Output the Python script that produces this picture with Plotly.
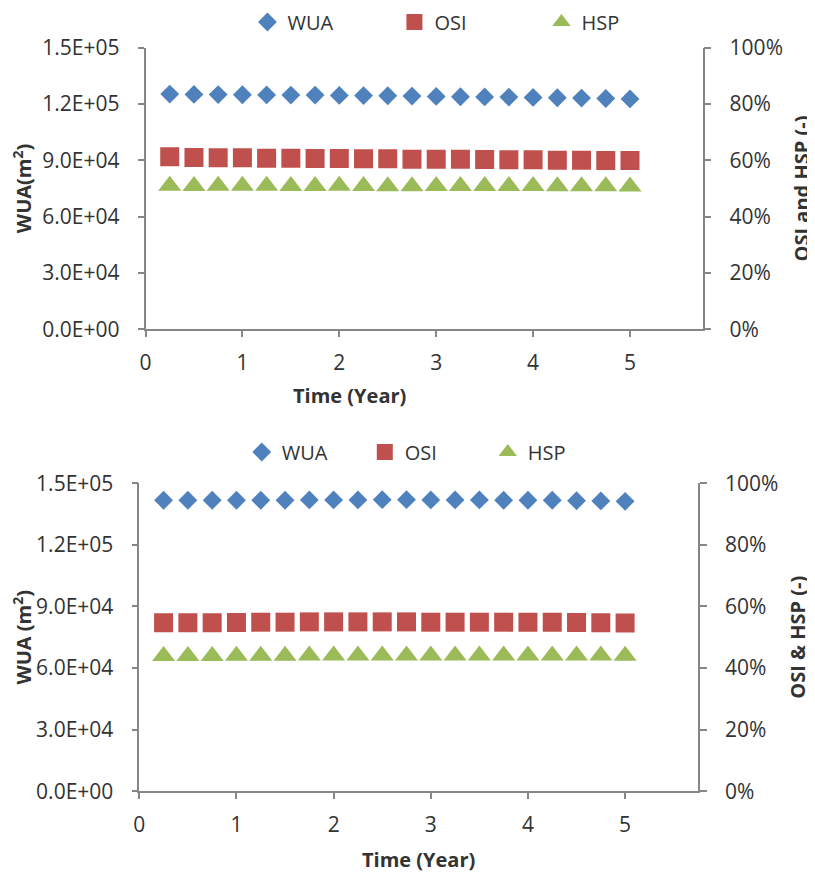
import plotly.graph_objects as go

# time axis (years), same for both panels
time_year = [0.25, 0.5, 0.75, 1.0, 1.25, 1.5, 1.75, 2.0, 2.25, 2.5,
             2.75, 3.0, 3.25, 3.5, 3.75, 4.0, 4.25, 4.5, 4.75, 5.0]

# upper panel
wua_top = [125270, 125090, 125000, 124910, 124820, 124730, 124730, 124550, 124470, 124380,
           124200, 124020, 123840, 123750, 123670, 123490, 123310, 123130, 122950, 122690]
osi_top = [0.6125, 0.6101, 0.6089, 0.6089, 0.6077, 0.6077, 0.6065, 0.6065, 0.6053, 0.6053,
           0.6042, 0.6042, 0.6042, 0.6030, 0.6018, 0.6018, 0.6006, 0.6006, 0.5994, 0.5994]
hsp_top = [0.510, 0.509, 0.510, 0.510, 0.510, 0.509, 0.509, 0.510, 0.509, 0.508,
           0.508, 0.509, 0.509, 0.509, 0.509, 0.509, 0.508, 0.508, 0.508, 0.507]

# lower panel
wua_bot = [141700, 141700, 141700, 141700, 141700, 141700, 141900, 141900, 141900, 142000,
           142000, 141900, 141900, 141900, 141700, 141700, 141700, 141500, 141400, 141200]
osi_bot = [0.547, 0.547, 0.547, 0.548, 0.549, 0.549, 0.550, 0.550, 0.550, 0.550,
           0.550, 0.549, 0.549, 0.549, 0.549, 0.549, 0.549, 0.548, 0.547, 0.546]
hsp_bot = [0.439, 0.439, 0.439, 0.440, 0.440, 0.440, 0.441, 0.441, 0.441, 0.441,
           0.441, 0.441, 0.441, 0.441, 0.441, 0.441, 0.441, 0.441, 0.441, 0.440]

wua_tickvals = [0, 30000, 60000, 90000, 120000, 150000]
wua_ticktext = ["0.0E+00", "3.0E+04", "6.0E+04", "9.0E+04", "1.2E+05", "1.5E+05"]
x_tickvals = [0, 1, 2, 3, 4, 5]

FONT = "Open Sans"
TEXT = "#333333"
AXIS = "#868686"
BLUE = "#4F81BD"
RED = "#C0504D"
GREEN = "#9BBB59"

# the page body adds an 8px margin, so the figure is 8px smaller than the window
W, H = 807, 866


def marker_trace(x, y, name, symbol, color, size, xaxis, yaxis, legend):
    return go.Scatter(x=x, y=y, name=name, mode="markers",
                      marker=dict(symbol=symbol, color=color, size=size, line=dict(width=0)),
                      xaxis=xaxis, yaxis=yaxis, legend=legend)


data = [
    marker_trace(time_year, wua_top, "WUA", "diamond", BLUE, 14.5, "x", "y", "legend"),
    marker_trace(time_year, osi_top, "OSI", "square", RED, 19, "x", "y2", "legend"),
    marker_trace(time_year, hsp_top, "HSP", "triangle-up", GREEN, 20, "x", "y2", "legend"),
    marker_trace(time_year, wua_bot, "WUA", "diamond", BLUE, 14.5, "x2", "y3", "legend2"),
    marker_trace(time_year, osi_bot, "OSI", "square", RED, 19, "x2", "y4", "legend2"),
    marker_trace(time_year, hsp_bot, "HSP", "triangle-up", GREEN, 20, "x2", "y4", "legend2"),
]

tick_font = dict(family=FONT, size=21, color=TEXT)
title_font = dict(family=FONT, size=20, color=TEXT, weight="bold")


def x_axis(domain, anchor, title):
    return dict(domain=domain, anchor=anchor, range=[0, 5.75], tickvals=x_tickvals,
                showline=True, linecolor=AXIS, linewidth=1.5, ticks="outside", ticklen=6,
                tickcolor=AXIS, tickwidth=1.5, showgrid=False, zeroline=False,
                tickfont=tick_font, ticklabelstandoff=8,
                title=dict(text=title, font=title_font, standoff=16))


def left_axis(domain, anchor, title):
    return dict(domain=domain, anchor=anchor, range=[0, 150000], tickvals=wua_tickvals,
                ticktext=wua_ticktext, showline=True, linecolor=AXIS, linewidth=1.5,
                ticks="outside", ticklen=6, tickcolor=AXIS, tickwidth=1.5, showgrid=False,
                zeroline=False, tickfont=tick_font, ticklabelstandoff=14,
                title=dict(text=title, font=title_font, standoff=25))


def right_axis(overlaying, anchor, title):
    return dict(overlaying=overlaying, anchor=anchor, side="right", range=[0, 1],
                tickvals=[0, 0.2, 0.4, 0.6, 0.8, 1.0], tickformat=".0%",
                showline=True, linecolor=AXIS, linewidth=1.5, ticks="outside", ticklen=7,
                tickcolor=AXIS, tickwidth=1.5, showgrid=False, zeroline=False,
                tickfont=tick_font, ticklabelstandoff=14,
                title=dict(text=title, font=title_font, standoff=14))


legend_font = dict(family=FONT, size=20, color=TEXT)

layout = go.Layout(
    width=W, height=H, autosize=False,
    margin=dict(l=0, r=0, t=0, b=0, autoexpand=False),
    paper_bgcolor="white", plot_bgcolor="white",
    font=dict(family=FONT, color=TEXT),
    xaxis=x_axis([0.1704, 0.8608], "y", ""),
    yaxis=left_axis([0.6290, 0.9542], "x", "WUA(m<sup>2</sup>)"),
    yaxis2=right_axis("y", "x", "OSI and HSP (-)"),
    xaxis2=x_axis([0.1627, 0.8550], "y3", "Time (Year)"),
    yaxis3=left_axis([0.0955, 0.4512], "x2", "WUA (m<sup>2</sup>)"),
    yaxis4=right_axis("y3", "x2", "OSI &amp; HSP (-)"),
    legend=dict(orientation="h", x=0.2967, xanchor="left", y=1 - 14 / H, yanchor="middle",
                font=legend_font, entrywidth=102, bgcolor="rgba(0,0,0,0)"),
    legend2=dict(orientation="h", x=0.2897, xanchor="left", y=1 - 444 / H, yanchor="middle",
                 font=legend_font, entrywidth=78, bgcolor="rgba(0,0,0,0)"),
    annotations=[dict(text="<b>Time (Year)</b>", x=341 / W, y=1 - 387 / H,
                      xref="paper", yref="paper", showarrow=False,
                      font=dict(family=FONT, size=20, color=TEXT))],
)

fig = go.Figure(data=data, layout=layout)
fig.write_html("out.html")
